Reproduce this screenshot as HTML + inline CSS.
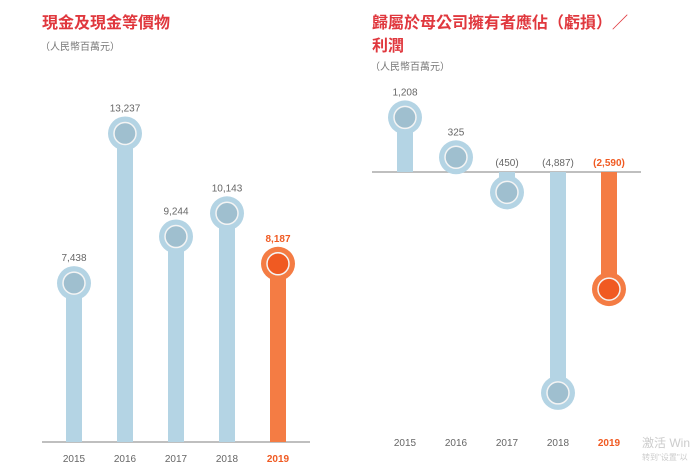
<!DOCTYPE html>
<html><head><meta charset="utf-8"><style>
body{margin:0;background:#fff;width:698px;height:466px;overflow:hidden}
svg text{font-family:"Liberation Sans","Noto Sans CJK TC",sans-serif}
</style></head><body>
<svg id="c" width="698" height="466" xmlns="http://www.w3.org/2000/svg">
<text x="42" y="28" font-size="16" fill="#e0383e" font-weight="bold">現金及現金等價物</text>
<text x="40" y="50" font-size="10" fill="#777">（人民幣百萬元）</text>
<text x="372" y="28" font-size="16" fill="#e0383e" font-weight="bold">歸屬於母公司擁有者應佔（虧損）／</text>
<text x="372" y="51" font-size="16" fill="#e0383e" font-weight="bold">利潤</text>
<text x="370" y="70" font-size="10" fill="#777">（人民幣百萬元）</text>
<line x1="42" y1="442" x2="310" y2="442" stroke="#aaa" stroke-width="1.5"/>
<line x1="372" y1="172" x2="641" y2="172" stroke="#aaa" stroke-width="1.5"/>
<g id="L"></g><g id="R"></g>
<text x="642" y="447" font-size="12" fill="#ccc">激活 Win</text>
<text x="642" y="460" font-size="8" fill="#ccc">转到"设置"以</text>
</svg>
<script>
const years=["2015","2016","2017","2018","2019"];
const cashValues=[7438,13237,9244,10143,8187];
const cashLabels=["7,438","13,237","9,244","10,143","8,187"];
const profitValues=[1208,325,-450,-4887,-2590];
const profitLabels=["1,208","325","(450)","(4,887)","(2,590)"];
const NS="http://www.w3.org/2000/svg";
function mk(p,t,a){const e=document.createElementNS(NS,t);for(const k in a)e.setAttribute(k,a[k]);p.appendChild(e);return e;}
function lx(i){return 74+i*51;}
function ly(v){return 475-v*0.0258;}
function rx(i){return 405+i*51;}
function ry(v){return 172-v*0.0452;}
function draw(g,xf,y0,yf,vals,labs,pre){
 vals.forEach((v,i)=>{
  const last=i===vals.length-1;
  const bar=last?"#f47c44":"#b4d4e4",ring=last?"#f47c44":"#b4d4e4",core=last?"#f05a22":"#9fbfcf";
  const x=xf(i),y=yf(v);
  const b=mk(g,"rect",{x:x-8,y:Math.min(y,y0),width:16,height:Math.abs(y0-y),fill:bar});
  
  
  const c=mk(g,"circle",{cx:x,cy:y,r:17,fill:ring});
  
  
  mk(g,"circle",{cx:x,cy:y,r:11,fill:core,stroke:"#f4f4f4","stroke-width":1.5});
  const ty=v>=0?y-22:y0-6;
  const t=mk(g,"text",{x:x,y:ty,"text-anchor":"middle","font-size":10,fill:last?"#f05a22":"#666","font-weight":last?"bold":"normal"});
  t.textContent=labs[i];
  
  
  const yl=mk(g,"text",{x:x,y:pre==="left"?462:446,"text-anchor":"middle","font-size":10,fill:last?"#f05a22":"#666","font-weight":last?"bold":"normal"});
  yl.textContent=years[i];
  
  
 });
}
draw(document.getElementById("L"),lx,442,ly,cashValues,cashLabels,"left");
draw(document.getElementById("R"),rx,172,ry,profitValues,profitLabels,"right");
</script>
</body></html>
